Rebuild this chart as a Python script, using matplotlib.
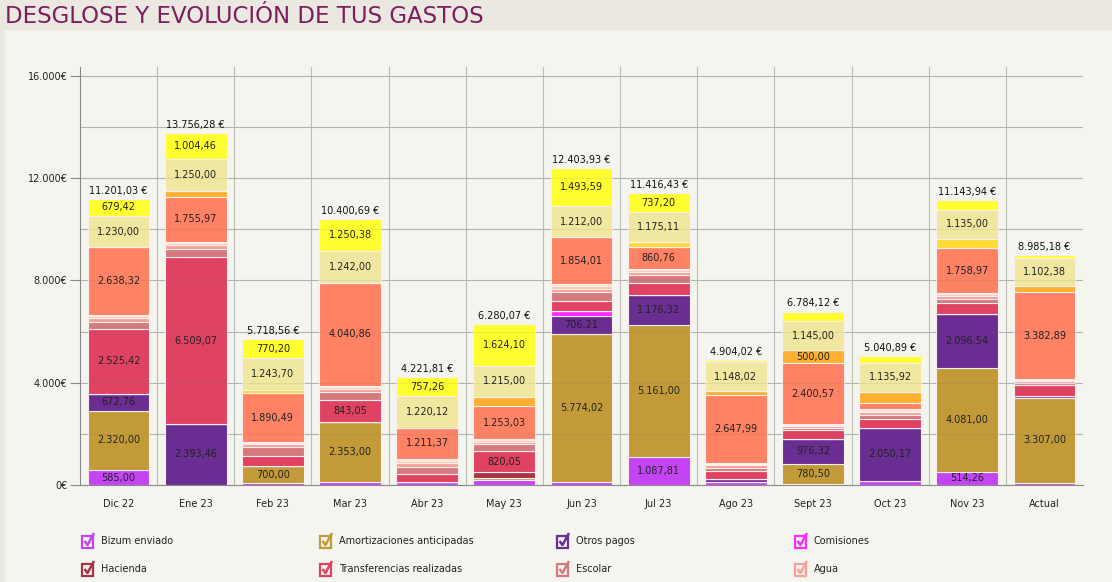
import matplotlib
matplotlib.use("Agg")
import matplotlib.pyplot as plt
from matplotlib.patches import Rectangle
from matplotlib.lines import Line2D
import numpy as np

W, H = 1112, 582

months = ["Dic 22", "Ene 23", "Feb 23", "Mar 23", "Abr 23", "May 23", "Jun 23",
          "Jul 23", "Ago 23", "Sept 23", "Oct 23", "Nov 23", "Actual"]

totals = [11201.03, 13756.28, 5718.56, 10400.69, 4221.81, 6280.07, 12403.93,
          11416.43, 4904.02, 6784.12, 5040.89, 11143.94, 8985.18]

bizum = [585.00, 0, 60, 130, 120, 200, 120, 1087.81, 110, 50, 170, 514.26, 90]
amortizaciones = [2320.00, 0, 700.00, 2353.00, 0, 90, 5774.02, 5161.00, 0, 780.50, 0, 4081.00, 3307.00]
otros_pagos = [672.76, 2393.46, 0, 0, 0, 0, 706.21, 1176.32, 110, 976.32, 2050.17, 2096.54, 65]
comisiones = [0, 0, 0, 0, 0, 0, 220, 0, 0, 0, 0, 0, 0]
hacienda = [0, 0, 0, 0, 0, 210, 0, 0, 0, 0, 0, 0, 0]
transferencias = [2525.42, 6509.07, 380, 843.05, 300, 820.05, 390, 460, 340, 340, 370, 440, 440]
escolar = [280, 330, 330, 300, 300, 280, 330, 330, 110, 90, 140, 140, 90]
agua = [140, 150, 130, 130, 130, 100, 140, 120, 100, 70, 110, 120, 80]
luz = [70, 70, 50, 60, 100, 60, 90, 60, 50, 35, 60, 60, 45]
gas = [60.11, 60, 44.17, 51.4, 83.06, 57.89, 74.1, 52.23, 50, 31.73, 60, 50, 37.91]
tarjetas = [2638.32, 1755.97, 1890.49, 4040.86, 1211.37, 1253.03, 1854.01, 860.76, 2647.99, 2400.57, 240, 1758.97, 3382.89]
seguros = [0, 233.32, 0, 0, 0, 370, 0, 0, 150, 500.00, 440, 0, 245]
suministros = [0, 0, 120, 0, 0, 0, 0, 196, 0, 0, 0, 380, 0]
alquiler = [1230.00, 1250.00, 1243.70, 1242.00, 1220.12, 1215.00, 1212.00, 1175.11, 1148.02, 1145.00, 1135.92, 1135.00, 1102.38]
recibos = [679.42, 1004.46, 770.20, 1250.38, 757.26, 1624.10, 1493.59, 737.20, 88.01, 365, 264.8, 368.17, 100]

series = [
    ("Bizum enviado", bizum, "#c444f4"),
    ("Amortizaciones anticipadas", amortizaciones, "#c29a38"),
    ("Otros pagos", otros_pagos, "#6a2d92"),
    ("Comisiones", comisiones, "#ff2cff"),
    ("Hacienda", hacienda, "#a83246"),
    ("Transferencias realizadas", transferencias, "#e04262"),
    ("Escolar", escolar, "#d4797e"),
    ("Agua", agua, "#f6a096"),
    ("Luz", luz, "#ffc8a8"),
    ("Gas", gas, "#ffdcc0"),
    ("Tarjetas", tarjetas, "#ff8264"),
    ("Seguros", seguros, "#ffb02e"),
    ("Suministros", suministros, "#ffdc34"),
    ("Alquiler", alquiler, "#f0e8a0"),
    ("Recibos", recibos, "#ffff30"),
]
legend_count = 8

def fmt(v):
    s = f"{v:,.2f}"
    return s.replace(",", "X").replace(".", ",").replace("X", ".")

fig = plt.figure(figsize=(W / 100, H / 100), dpi=100)
fig.patch.set_facecolor("#ebe8e2")
fig.add_artist(Rectangle((5 / W, 0), 1 - 5 / W, (H - 30) / H, transform=fig.transFigure,
                         facecolor="#f5f5f0", edgecolor="none", zorder=0))
fig.text(5 / W, 1 - 23 / H, "DESGLOSE Y EVOLUCIÓN DE TUS GASTOS", color="#7b1e5e",
         fontsize=16.5, va="baseline", ha="left", family="DejaVu Sans")

ax = fig.add_axes([80 / W, (H - 485) / H, (1083 - 80) / W, (485 - 67) / H])
ax.set_facecolor("#f5f5f0")
x = np.arange(len(months))
bottom = np.zeros(len(months))
for name, vals, col in series:
    v = np.array(vals, dtype=float)
    ax.bar(x, v, 0.8, bottom=bottom, color=col, edgecolor="#fbeeee", linewidth=0.8, zorder=3)
    for i, val in enumerate(v):
        if val >= 480:
            ax.text(x[i], bottom[i] + val / 2, fmt(val), ha="center", va="center",
                    fontsize=7, color="#222222", zorder=5)
    bottom += v

for i, t in enumerate(totals):
    ax.text(x[i], bottom[i] + 120, fmt(t) + " €", ha="center", va="bottom",
            fontsize=7, color="#111111", zorder=5)

ax.set_xlim(-0.5, len(months) - 0.5)
ax.set_ylim(0, 16350)
ax.set_yticks([0, 4000, 8000, 12000, 16000])
ax.set_yticklabels(["0€", "4.000€", "8.000€", "12.000€", "16.000€"])
ax.set_yticks(np.arange(0, 16001, 2000), minor=True)
ax.yaxis.grid(True, which="both", color="#bdbdb8", linewidth=0.8, zorder=1)
# faint gridlines showing through the slightly translucent bars
for g in np.arange(2000, 16001, 2000):
    ax.axhline(g, color="#707070", linewidth=0.8, alpha=0.12, zorder=4)
for b in np.arange(0.5, len(months) - 0.5, 1):
    ax.axvline(b, color="#bdbdb8", linewidth=0.8, zorder=1)
ax.set_xticks(x)
ax.set_xticklabels(months)
ax.tick_params(axis="x", length=0, pad=10, labelsize=7, colors="#222222")
ax.tick_params(axis="y", which="major", length=7, width=0.8, color="#888888",
               labelsize=7, colors="#222222", pad=2)
ax.tick_params(axis="y", which="minor", length=0)
for s in ["top", "right"]:
    ax.spines[s].set_visible(False)
ax.spines["left"].set_color("#888888")
ax.spines["bottom"].set_color("#888888")
ax.spines["left"].set_linewidth(0.8)
ax.spines["bottom"].set_linewidth(0.8)

# legend with checkbox glyphs
cols_x = [82, 320, 557, 795]
rows_y = [541, 569]
def fx(px):
    return px / W
def fy(py):
    return 1 - py / H
for k in range(legend_count):
    name, _, col = series[k]
    cx = cols_x[k % 4]
    cy = rows_y[k // 4]
    fig.add_artist(Rectangle((fx(cx), fy(cy + 7)), 11 / W, 12 / H, transform=fig.transFigure,
                             facecolor="none", edgecolor=col, linewidth=1.6))
    fig.add_artist(Line2D([fx(cx + 2.5), fx(cx + 5.5), fx(cx + 12)],
                          [fy(cy), fy(cy + 4), fy(cy - 8)], transform=fig.transFigure,
                          color=col, linewidth=1.8, solid_capstyle="butt"))
    fig.text(fx(cx + 19), fy(cy), name, fontsize=7, color="#222222", va="center", ha="left")

fig.savefig("out.png", dpi=100, facecolor=fig.get_facecolor())
